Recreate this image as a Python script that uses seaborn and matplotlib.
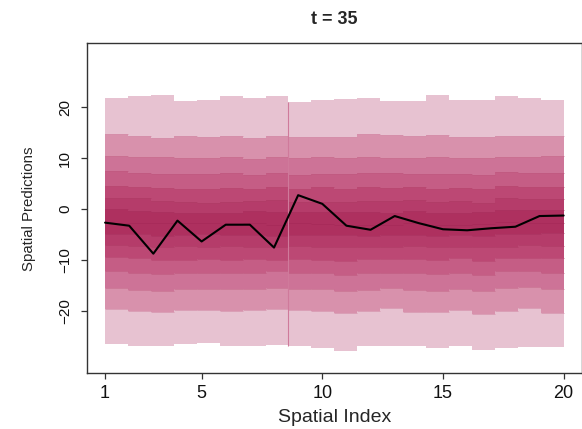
import numpy as np
import matplotlib
matplotlib.use("Agg")
import matplotlib.pyplot as plt
import seaborn as sns

# spatial locations and observed series
spatial_index = list(range(1, 21))
observed = [-2.7, -3.3, -8.8, -2.3, -6.4, -3.1, -3.1, -7.6, 2.7, 1.0,
            -3.3, -4.1, -1.4, -2.8, -4.0, -4.2, -3.8, -3.5, -1.4, -1.3]

# predictive quantile boundaries per location, from upper to lower
q_top = [21.9, 22.1, 22.3, 21.3, 21.5, 22.1, 21.9, 22.2, 21.1, 21.4,
         21.7, 21.9, 21.2, 21.2, 22.4, 21.5, 21.4, 22.1, 21.9, 21.5]
q_u6 = [14.8, 14.3, 13.9, 14.3, 14.2, 14.3, 14.0, 14.3, 14.2, 14.2,
        14.2, 14.7, 14.5, 14.3, 14.5, 14.2, 14.2, 14.3, 14.3, 14.3]
q_u5 = [10.5, 10.3, 10.2, 10.1, 10.0, 10.3, 9.8, 10.2, 10.1, 10.3,
        10.0, 10.3, 10.1, 10.1, 10.3, 10.1, 10.0, 10.3, 10.2, 10.4]
q_u4 = [7.5, 7.0, 6.9, 6.8, 6.9, 7.0, 6.7, 7.0, 6.7, 6.9,
        6.9, 7.1, 7.0, 6.9, 6.9, 6.9, 6.7, 7.3, 7.0, 7.1]
q_u3 = [4.5, 4.4, 4.1, 4.0, 3.9, 4.1, 3.9, 4.3, 4.0, 4.3,
        4.0, 4.4, 4.1, 4.3, 3.9, 4.1, 3.9, 4.5, 4.3, 4.4]
q_u2 = [2.1, 2.1, 1.6, 1.4, 1.2, 1.4, 1.6, 1.8, 1.4, 1.4,
        1.4, 1.6, 1.6, 1.8, 1.4, 1.6, 1.2, 2.1, 1.9, 1.9]
q_u1 = [-0.1, -0.4, -0.7, -0.9, -0.9, -0.9, -0.5, -0.7, -0.7, -0.7,
        -0.7, -0.7, -0.9, -0.5, -0.9, -0.9, -0.7, -0.2, -0.3, -0.3]
q_med = [-2.7, -2.7, -2.8, -2.7, -2.8, -3.1, -2.8, -3.1, -2.8, -2.9,
         -3.1, -3.1, -3.1, -2.8, -3.1, -3.1, -2.9, -2.5, -2.7, -2.7]
q_l1 = [-4.9, -4.9, -5.4, -5.1, -4.9, -5.1, -5.1, -5.3, -5.1, -5.1,
        -5.2, -5.3, -5.1, -5.1, -5.3, -5.1, -5.3, -4.9, -4.9, -4.8]
q_l2 = [-7.1, -7.2, -7.4, -7.2, -7.4, -7.3, -7.4, -7.4, -7.3, -7.4,
        -7.4, -7.4, -7.4, -7.3, -7.5, -7.4, -7.4, -7.4, -7.1, -7.3]
q_l3 = [-9.5, -9.6, -10.1, -10.0, -9.9, -10.0, -9.9, -10.0, -9.8, -10.0,
        -10.2, -9.9, -9.9, -9.9, -10.0, -9.7, -10.3, -9.7, -9.7, -9.7]
q_l4 = [-12.3, -12.5, -12.8, -12.5, -12.6, -12.6, -12.5, -12.3, -12.5, -12.5,
        -13.0, -12.5, -12.5, -12.5, -12.8, -12.6, -13.0, -12.3, -12.3, -12.6]
q_l5 = [-15.5, -15.9, -16.1, -15.8, -15.8, -15.8, -15.8, -15.6, -15.8, -15.8,
        -16.1, -15.9, -15.6, -15.9, -16.1, -15.8, -16.2, -15.6, -15.3, -15.8]
q_l6 = [-19.6, -20.0, -20.2, -19.8, -19.8, -20.0, -19.8, -19.6, -19.8, -20.0,
        -20.4, -20.0, -19.5, -20.2, -20.2, -19.8, -20.6, -20.0, -19.5, -20.4]
q_bot = [-26.5, -27.0, -27.0, -26.5, -26.4, -27.0, -27.0, -26.7, -26.9, -27.4,
         -28.0, -27.0, -27.0, -27.0, -27.4, -27.0, -27.8, -27.4, -27.2, -27.2]

x_ticks = [1, 5, 10, 15, 20]
y_ticks = [-20, -10, 0, 10, 20]
y_tick_labels = ["\u221220", "\u221210", "0", "10", "20"]

# shades from the outermost interval to the central one
band_shades = ["#E7C2D1", "#D891AC", "#CD7397", "#C55D85", "#BC4874",
               "#B53C6A", "#AE305F"]
edge_shades = ["#D58FAA", "#C9708F", "#C05A80", "#B84871", "#B03C66",
               "#AA3260", "#A62A58"]

sns.set_style("white")
plt.rcParams["font.family"] = ["Liberation Sans", "DejaVu Sans"]

fig = plt.figure(figsize=(5.82, 4.29), dpi=100)
ax = fig.add_axes([0.149, 0.13, 0.851, 0.769])

bounds = np.array([q_top, q_u6, q_u5, q_u4, q_u3, q_u2, q_u1, q_med,
                   q_l1, q_l2, q_l3, q_l4, q_l5, q_l6, q_bot])
n_cols = len(spatial_index)
x0, x1 = spatial_index[0], spatial_index[-1]
width = (x1 - x0) / n_cols
lefts = x0 + width * np.arange(n_cols)
n_bands = bounds.shape[0] - 1

for k in range(n_bands):
    rank = min(k, n_bands - 1 - k)
    upper, lower = bounds[k], bounds[k + 1]
    ax.bar(lefts, upper - lower, bottom=lower, width=width, align="edge",
           color=band_shades[rank], linewidth=0, zorder=1)

# faint seams between adjacent intervals
for k in range(1, n_bands):
    rank = min(k, n_bands - k)
    ax.hlines(bounds[k], lefts, lefts + width, color=edge_shades[rank - 1],
              linewidth=0.6, alpha=0.8, zorder=2)

# seam on the left side of the ninth column
ax.vlines(lefts[8], q_bot[8], q_top[8], color="#CF7A9B", linewidth=0.8, zorder=2)

sns.lineplot(x=spatial_index, y=observed, color="black", linewidth=1.5,
             ax=ax, zorder=3)

ax.set_xlim(0.24, 20.76)
ax.set_ylim(-32.3, 32.55)
ax.set_xticks(x_ticks)
ax.set_xticklabels([str(v) for v in x_ticks])
ax.set_yticks(y_ticks)
ax.set_yticklabels(y_tick_labels, rotation=90, va="center")

for s in ax.spines.values():
    s.set_color("#333333")
    s.set_linewidth(1.0)

ax.tick_params(axis="both", direction="out", length=4.5, width=0.9,
               bottom=True, left=True, color="#333333", labelcolor="#111111")
ax.tick_params(axis="x", labelsize=13, pad=4)
ax.tick_params(axis="y", labelsize=11, pad=6)

ax.set_xlabel("Spatial Index", fontsize=14, labelpad=5)
ax.set_ylabel("Spatial Predictions", fontsize=10.8, labelpad=16)
ax.set_title("t = 35", fontsize=13, fontweight="bold", pad=14)

fig.savefig("out.png", dpi=100)
